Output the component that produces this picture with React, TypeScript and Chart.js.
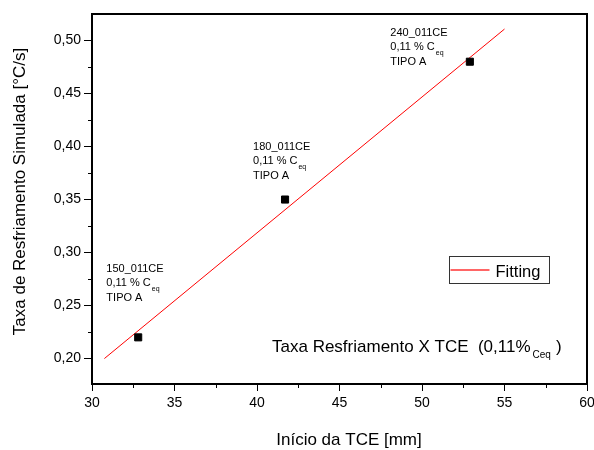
import React, { useEffect, useRef } from 'react';
import { Chart, registerables } from 'chart.js';

Chart.register(...registerables);

// ---- data ----
const pointX = [32.8, 41.7, 52.9];
const pointY = [0.22, 0.35, 0.48];
const fitX = [30.75, 55];
const fitY = [0.2, 0.5108];
const sampleNames = ['150_011CE', '180_011CE', '240_011CE'];
const sampleLine2 = '0,11 % C';
const sampleLine2Sub = 'eq';
const sampleLine3 = 'TIPO A';
// annotation anchors (data coordinates of first-line baseline, left edge)
const noteX = [30.87, 39.76, 48.08];
const noteY = [0.2818, 0.3968, 0.5044];
const xMinorTicks = [32.5, 37.5, 42.5, 47.5, 52.5, 57.5];
const yMinorTicks = [0.225, 0.275, 0.325, 0.375, 0.425, 0.475];
const titleMain = 'Taxa Resfriamento X TCE  (0,11%';
const titleSub = 'Ceq';
const titleEnd = ')';
const xTitle = 'Início da TCE [mm]';
const yTitle = 'Taxa de Resfriamento Simulada [°C/s]';
const legendLabel = 'Fitting';

const FONT = "'Liberation Sans', Arial, Helvetica, sans-serif";

const overlay = {
  id: 'overlay',
  afterDraw(chart: any) {
    const { ctx, chartArea: a, scales } = chart;
    const xs = scales.x;
    const ys = scales.y;
    ctx.save();
    // frame
    ctx.strokeStyle = '#000';
    ctx.lineWidth = 2;
    ctx.strokeRect(a.left, a.top, a.right - a.left, a.bottom - a.top);
    // minor ticks
    ctx.lineWidth = 1;
    ctx.beginPath();
    for (const v of xMinorTicks) {
      const px = Math.round(xs.getPixelForValue(v)) + 0.5;
      ctx.moveTo(px, a.bottom);
      ctx.lineTo(px, a.bottom + 4);
    }
    for (const v of yMinorTicks) {
      const py = Math.round(ys.getPixelForValue(v)) + 0.5;
      ctx.moveTo(a.left, py);
      ctx.lineTo(a.left - 4, py);
    }
    ctx.stroke();

    ctx.fillStyle = '#000';
    ctx.textAlign = 'left';
    ctx.textBaseline = 'alphabetic';
    // sample annotations
    for (let i = 0; i < sampleNames.length; i++) {
      const px = xs.getPixelForValue(noteX[i]);
      const py = ys.getPixelForValue(noteY[i]);
      ctx.font = `11px ${FONT}`;
      ctx.fillText(sampleNames[i], px, py);
      ctx.fillText(sampleLine2, px, py + 14.5);
      const w = ctx.measureText(sampleLine2).width;
      ctx.font = `7px ${FONT}`;
      ctx.fillText(sampleLine2Sub, px + w + 1, py + 14.5 + 5);
      ctx.font = `11px ${FONT}`;
      ctx.fillText(sampleLine3, px, py + 29);
    }

    // inner title
    const tx = a.left + 180;
    const ty = a.bottom - 31.7;
    ctx.font = `17px ${FONT}`;
    ctx.fillText(titleMain, tx, ty);
    const tw = ctx.measureText(titleMain).width;
    ctx.font = `10px ${FONT}`;
    ctx.fillText(titleSub, tx + tw + 2, ty + 6);
    const sw = ctx.measureText(titleSub).width;
    ctx.font = `17px ${FONT}`;
    ctx.fillText(titleEnd, tx + tw + 2 + sw + 5, ty);

    // legend
    const lx = a.left + 357.5;
    const ly = a.top + 242.5;
    ctx.strokeStyle = '#333';
    ctx.lineWidth = 1;
    ctx.strokeRect(lx, ly, 100, 27);
    ctx.strokeStyle = '#ff3333';
    ctx.lineWidth = 1.5;
    ctx.beginPath();
    ctx.moveTo(lx + 1, ly + 13.5);
    ctx.lineTo(lx + 40, ly + 13.5);
    ctx.stroke();
    ctx.font = `16.5px ${FONT}`;
    ctx.fillText(legendLabel, lx + 46, ly + 20.5);

    // axis titles
    ctx.font = `17px ${FONT}`;
    ctx.textAlign = 'center';
    ctx.fillText(xTitle, (a.left + a.right) / 2 + 9.5, 445);
    ctx.translate(25, (a.top + a.bottom) / 2 - 7.5);
    ctx.rotate(-Math.PI / 2);
    ctx.fillText(yTitle, 0, 0);
    ctx.restore();
  },
};

export default function App() {
  const ref = useRef<HTMLCanvasElement | null>(null);
  useEffect(() => {
    if (!ref.current) return;
    const chart = new Chart(ref.current, {
      type: 'scatter',
      data: {
        datasets: [
          {
            label: 'Samples',
            data: pointX.map((x, i) => ({ x, y: pointY[i] })),
            pointStyle: 'rect',
            pointRadius: 5,
            backgroundColor: '#000',
            borderColor: '#000',
            showLine: false,
          },
          {
            label: legendLabel,
            data: fitX.map((x, i) => ({ x, y: fitY[i] })),
            showLine: true,
            borderColor: '#ff0000',
            borderWidth: 1,
            pointRadius: 0,
            backgroundColor: '#ff0000',
          },
        ],
      },
      options: {
        animation: false,
        responsive: false,
        devicePixelRatio: 1,
        layout: { padding: { top: 14, right: 7, left: 0, bottom: 0 } },
        plugins: { legend: { display: false }, tooltip: { enabled: false } },
        scales: {
          x: {
            type: 'linear',
            min: 30,
            max: 60,
            afterFit: (s: any) => {
              s.height = 66;
              s.paddingLeft = 0;
              s.paddingRight = 0;
            },
            ticks: {
              stepSize: 5,
              includeBounds: false,
              color: '#000',
              padding: 4,
              maxRotation: 0,
              font: { family: FONT, size: 14 },
            },
            grid: { drawOnChartArea: false, drawTicks: true, tickLength: 7, color: '#000', tickColor: '#000', tickWidth: 1 },
            border: { display: false },
          },
          y: {
            type: 'linear',
            min: 0.176,
            max: 0.525,
            afterFit: (s: any) => {
              s.width = 92;
              s.paddingTop = 0;
              s.paddingBottom = 0;
            },
            ticks: {
              stepSize: 0.05,
              includeBounds: false,
              color: '#000',
              padding: 3,
              font: { family: FONT, size: 14 },
              callback: (v: any) => Number(v).toFixed(2).replace('.', ','),
            },
            grid: { drawOnChartArea: false, drawTicks: true, tickLength: 8, color: '#000', tickColor: '#000', tickWidth: 1 },
            border: { display: false },
          },
        },
      },
      plugins: [overlay],
    });
    return () => chart.destroy();
  }, []);
  return (
    <div style={{ position: 'absolute', left: 0, top: 0, width: 594, height: 450, background: '#fff' }}>
      <canvas ref={ref} width={594} height={450} style={{ width: 594, height: 450, display: 'block' }} />
    </div>
  );
}
